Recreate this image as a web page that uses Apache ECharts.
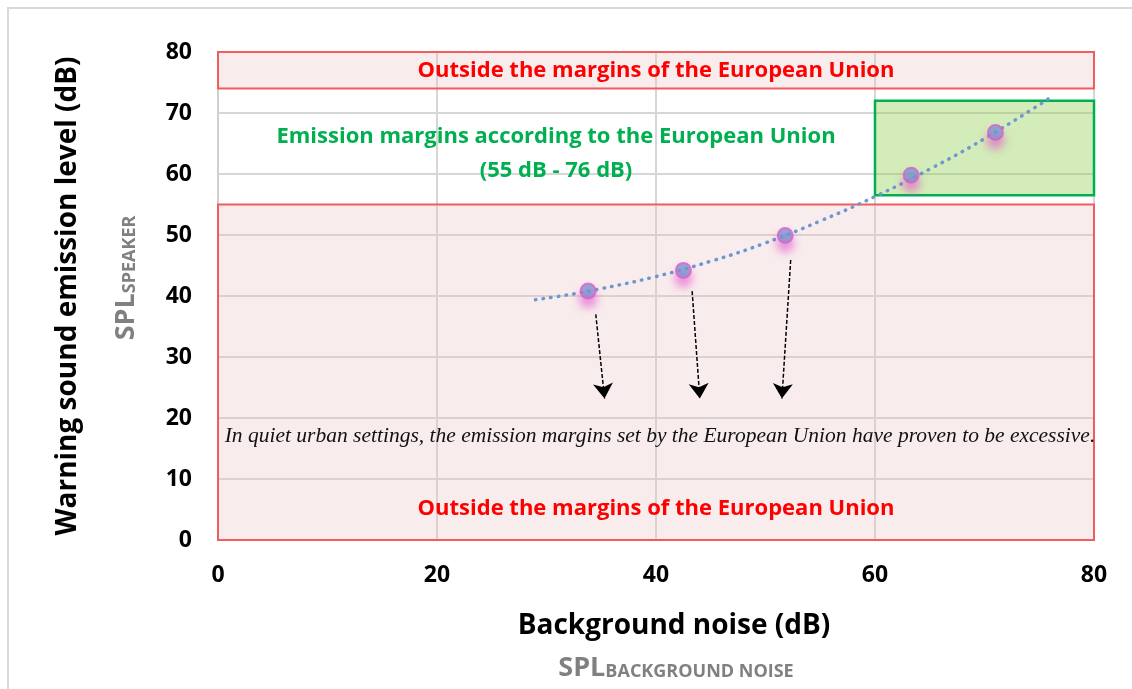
<!DOCTYPE html>
<html>
<head>
<meta charset="utf-8">
<script src="https://cdn.jsdelivr.net/npm/echarts@6/dist/echarts.min.js"></script>
<style>
  html,body{margin:0;padding:0;background:#fff;}
  #main{width:1132px;height:689px;}
</style>
</head>
<body>
<div id="main"></div>
<script>
// measured points (background noise, speaker level)
var noiseX = [33.8, 42.5, 51.8, 63.3, 71.0];
var speakerY = [40.8, 44.2, 49.9, 59.8, 66.8];

// dotted trend curve
var trendX = [29, 32, 35, 40, 45, 50, 55, 60, 65, 70, 76];
var trendY = [39.4, 40.2, 41.2, 43.2, 45.7, 48.7, 52.3, 56.3, 60.8, 65.8, 72.5];

// dashed arrows
var arrowX0 = [34.5, 43.3, 52.3];
var arrowY0 = [37.0, 40.8, 45.9];
var arrowX1 = [35.3, 44.0, 51.5];
var arrowY1 = [23.2, 23.2, 23.2];

// zones
var euTopZone = [74, 80];
var euBottomZone = [0, 55];
var euGreenX = [60, 80];
var euGreenY = [56.5, 72];

var xTicks = [0, 80, 20];
var yTicks = [0, 80, 10];

var chart = echarts.init(document.getElementById('main'));

var fontMain = '"Open Sans", Lato, sans-serif';

var points = noiseX.map(function(x, i){ return [x, speakerY[i]]; });
var trend = trendX.map(function(x, i){ return [x, trendY[i]]; });
var arrows = arrowX0.map(function(x, i){
  return {coords: [[x, arrowY0[i]], [arrowX1[i], arrowY1[i]]]};
});

var redLabel = {
  color: '#ff0000', fontFamily: fontMain, fontWeight: 'bold', fontSize: 22
};

var option = {
  animation: false,
  grid: {left: 218, right: 38, top: 52, bottom: 149},
  xAxis: {
    type: 'value',
    min: xTicks[0], max: xTicks[1], interval: xTicks[2],
    name: 'Background noise (dB)',
    nameLocation: 'middle',
    nameGap: 72,
    nameTextStyle: {color: '#000', fontFamily: fontMain, fontWeight: 'bold', fontSize: 28, padding: [0, 0, 0, 36]},
    axisLine: {show: true, lineStyle: {color: '#d0d0d0', width: 2}},
    axisTick: {show: false},
    axisLabel: {color: '#000', fontFamily: fontMain, fontWeight: 'bold', fontSize: 23, margin: 24},
    splitLine: {show: true, lineStyle: {color: '#d6d6d6', width: 2}}
  },
  yAxis: {
    type: 'value',
    min: yTicks[0], max: yTicks[1], interval: yTicks[2],
    name: 'Warning sound emission level (dB)',
    nameLocation: 'middle',
    nameRotate: 90,
    nameGap: 136,
    nameTextStyle: {color: '#000', fontFamily: fontMain, fontWeight: 'bold', fontSize: 28},
    axisLine: {show: true, lineStyle: {color: '#d0d0d0', width: 2}},
    axisTick: {show: false},
    axisLabel: {color: '#000', fontFamily: fontMain, fontWeight: 'bold', fontSize: 23, margin: 26},
    splitLine: {show: true, lineStyle: {color: '#d6d6d6', width: 2}}
  },
  graphic: [
    {type: 'rect', z: -10, shape: {x: 8, y: 8, width: 1200, height: 800},
     style: {fill: 'none', stroke: '#d9d9d9', lineWidth: 2}},
    {type: 'text', x: 126, y: 278, rotation: Math.PI / 2,
     style: {text: '{a|SPL}{b|SPEAKER}', align: 'center', verticalAlign: 'middle',
       rich: {
         a: {fill: '#808080', fontFamily: fontMain, fontWeight: 'bold', fontSize: 27},
         b: {fill: '#808080', fontFamily: fontMain, fontWeight: 'bold', fontSize: 18, padding: [7, 0, 0, 0]}
       }}},
    {type: 'text', x: 676, y: 668,
     style: {text: '{a|SPL}{b|BACKGROUND NOISE}', align: 'center', verticalAlign: 'middle',
       rich: {
         a: {fill: '#808080', fontFamily: fontMain, fontWeight: 'bold', fontSize: 27},
         b: {fill: '#808080', fontFamily: fontMain, fontWeight: 'bold', fontSize: 18, padding: [7, 0, 0, 0]}
       }}},
    {type: 'text', x: 556, y: 137, z: 100,
     style: {text: 'Emission margins according to the European Union', align: 'center', verticalAlign: 'middle',
       fill: '#00b050', fontFamily: fontMain, fontWeight: 'bold', fontSize: 22}},
    {type: 'text', x: 556, y: 171, z: 100,
     style: {text: '(55 dB - 76 dB)', align: 'center', verticalAlign: 'middle',
       fill: '#00b050', fontFamily: fontMain, fontWeight: 'bold', fontSize: 22}},
    {type: 'text', x: 660, y: 436, z: 100,
     style: {text: 'In quiet urban settings, the emission margins set by the European Union have proven to be excessive.',
       align: 'center', verticalAlign: 'middle',
       fill: '#111', fontFamily: '"Liberation Serif", "DejaVu Serif", serif', fontStyle: 'italic', fontSize: 21.5}}
  ],
  series: [
    {
      name: 'zones',
      type: 'scatter',
      z: 1,
      data: [],
      markArea: {
        silent: true,
        itemStyle: {color: 'rgba(232,196,200,0.32)', borderColor: '#f25c5c', borderWidth: 2},
        data: [
          [{coord: [xTicks[0], euTopZone[0]],
            label: Object.assign({show: true, position: 'inside'}, redLabel)},
           {coord: [xTicks[1], euTopZone[1]]}],
          [{coord: [xTicks[0], euBottomZone[0]],
            label: Object.assign({show: true, position: 'insideBottom', distance: 21}, redLabel)},
           {coord: [xTicks[1], euBottomZone[1]]}]
        ],
        label: {formatter: 'Outside the margins of the European Union'}
      }
    },
    {
      name: 'trend',
      type: 'line',
      z: 3,
      smooth: true,
      showSymbol: false,
      data: trend,
      lineStyle: {color: '#6c98cf', width: 3.5, type: [0.5, 7.2], cap: 'round'}
    },
    {
      name: 'SPL',
      type: 'scatter',
      z: 4,
      data: points,
      symbolSize: 15,
      itemStyle: {
        color: '#709bd0', borderColor: '#e45ccc', borderWidth: 2,
        shadowColor: 'rgba(228,80,200,0.75)', shadowBlur: 8, shadowOffsetY: 8
      }
    },
    {
      name: 'arrows',
      type: 'lines',
      coordinateSystem: 'cartesian2d',
      z: 5,
      symbol: ['none', 'arrow'],
      symbolSize: 15,
      lineStyle: {color: '#000', width: 1.5, type: [4, 2], opacity: 1},
      data: arrows
    },
    {
      name: 'green zone',
      type: 'scatter',
      z: 10,
      data: [],
      markArea: {
        silent: true,
        itemStyle: {color: 'rgba(146,208,80,0.4)', borderColor: '#00b050', borderWidth: 2.5},
        data: [[{coord: [euGreenX[0], euGreenY[0]]}, {coord: [euGreenX[1], euGreenY[1]]}]]
      }
    }
  ]
};

chart.setOption(option);
</script>
</body>
</html>
